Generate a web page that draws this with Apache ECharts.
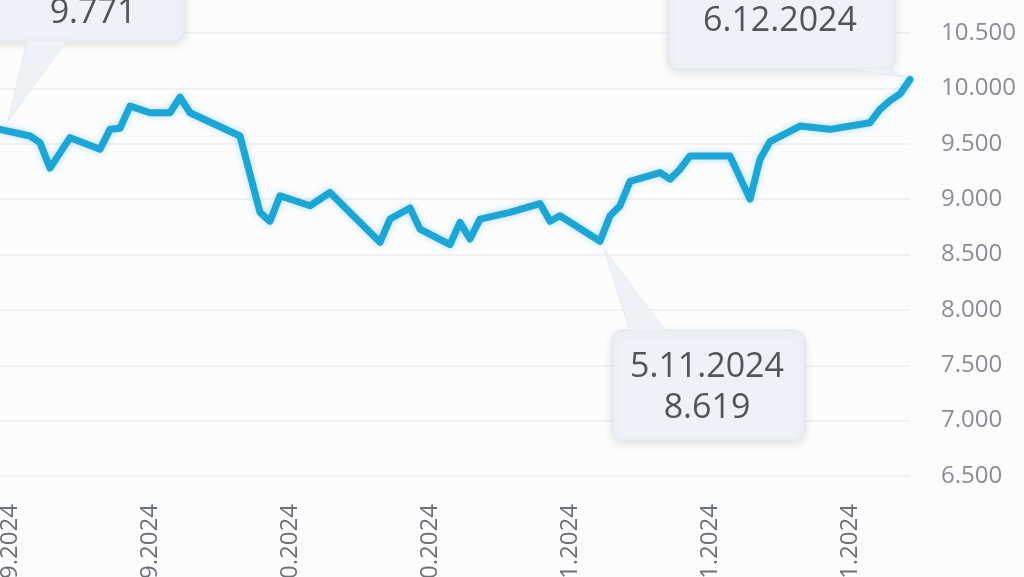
<!DOCTYPE html>
<html>
<head>
<meta charset="utf-8">
<script src="https://cdn.jsdelivr.net/npm/echarts@6/dist/echarts.min.js"></script>
<style>html,body{margin:0;padding:0;background:#fcfcfd;}#c{width:1024px;height:577px;}</style>
</head>
<body>
<div id="c"></div>
<script>
// ---- data ----
// one category per calendar day, 6 Sep 2024 .. 6 Dec 2024
const startDate = '2024-09-06';
const dayCount = 92;
// values read at the visible vertices of the line (day index -> value)
const vertexDays = [0, 3, 4, 5, 7, 10, 11, 12, 13, 15, 17, 18, 19, 24, 26, 27, 28, 31, 33, 35, 38, 39, 41, 42, 45, 46, 47, 48, 51, 54, 55, 56, 60, 61, 62, 63, 66, 67, 68, 69, 73, 75, 76, 77, 80, 83, 87, 88, 89, 90, 91];
const vertexValues = [9.63, 9.57, 9.51, 9.28, 9.555, 9.45, 9.63, 9.64, 9.84, 9.78, 9.78, 9.92, 9.78, 9.57, 8.88, 8.80, 9.03, 8.94, 9.06, 8.88, 8.61, 8.82, 8.92, 8.73, 8.59, 8.79, 8.64, 8.82, 8.88, 8.96, 8.80, 8.85, 8.619, 8.85, 8.94, 9.16, 9.24, 9.18, 9.27, 9.39, 9.39, 9.00, 9.36, 9.52, 9.66, 9.63, 9.69, 9.81, 9.89, 9.95, 10.08];
// y-axis ticks
const yMin = 6.5, yMax = 10.5, yStep = 0.5;
// x-axis labelled days
const labelDays = [1, 15, 29, 43, 57, 71, 85];
// callouts
const calloutDays = [0, 60, 91];
const calloutTexts = ['9.771', '5.11.2024\n8.619', '6.12.2024'];

// ---- build ----
function fmtDate(d) {
  const dd = d.getDate();
  const mm = String(d.getMonth() + 1).padStart(2, '0');
  return dd + '.' + mm + '.' + d.getFullYear();
}
const categories = [];
const s0 = new Date(startDate + 'T00:00:00');
for (let i = 0; i < dayCount; i++) {
  const d = new Date(s0.getTime());
  d.setDate(s0.getDate() + i);
  categories.push(fmtDate(d));
}
const seriesData = categories.map(() => null);
vertexDays.forEach((d, k) => { seriesData[d] = vertexValues[k]; });
const calloutData = calloutDays.map((d, k) => [d, seriesData[d], calloutTexts[k]]);

// callout geometry relative to anchor point (pixels)
const calloutLayout = [
  { box: [-20, -180, 205, 92], text: [93, -116], tail: [[27, -89], [67, -89], [8, -8]] },
  { box: [12, 89, 193, 110], text: [107, 146], tail: [[30, 90], [66, 90], [4, 8]] },
  { box: [-242, -110, 227, 100], text: [-130, -58], tail: [[-62, -11], [-22, -11], [-4, -2]] }
];

const FONT = '"Open Sans", sans-serif';
const chart = echarts.init(document.getElementById('c'), null, { renderer: 'canvas' });
chart.setOption({
  backgroundColor: '#fcfcfd',
  animation: false,
  grid: { left: 0, right: 114, top: 33, bottom: 101, containLabel: false, outerBoundsMode: 'none' },
  xAxis: {
    type: 'category',
    data: categories,
    boundaryGap: false,
    axisLine: { show: false },
    axisTick: { show: false },
    splitLine: { show: false },
    axisLabel: {
      rotate: 90,
      margin: 28,
      fontFamily: FONT,
      fontSize: 24,
      color: '#6d7278',
      interval: (idx) => labelDays.indexOf(idx) >= 0
    }
  },
  yAxis: {
    type: 'value',
    position: 'right',
    min: yMin,
    max: yMax,
    interval: yStep,
    axisLine: { show: false },
    axisTick: { show: false },
    axisLabel: {
      margin: 31,
      fontFamily: FONT,
      fontSize: 24,
      color: '#8a8e94',
      formatter: (v) => v.toFixed(3)
    },
    splitLine: { lineStyle: { color: '#eceef2', width: 1.5 } }
  },
  series: [
    {
      type: 'line',
      data: seriesData,
      connectNulls: true,
      showSymbol: false,
      symbol: 'none',
      lineStyle: {
        color: '#1ca6d5',
        width: 7,
        join: 'round',
        cap: 'round',
        shadowColor: 'rgba(28,166,213,0.35)',
        shadowBlur: 6
      },
      z: 3
    },
    {
      type: 'custom',
      data: calloutData,
      z: 5,
      clip: false,
      renderItem: function (params, api) {
        const p = api.coord([api.value(0), api.value(1)]);
        const L = calloutLayout[params.dataIndex];
        const fill = '#eef2f6';
        return {
          type: 'group',
          children: [
            {
              type: 'rect',
              shape: { x: p[0] + L.box[0], y: p[1] + L.box[1], width: L.box[2], height: L.box[3], r: 12 },
              style: { fill: fill, stroke: '#e3e8ee', lineWidth: 1.5, shadowColor: 'rgba(0,0,0,0.10)', shadowBlur: 10, shadowOffsetY: 3 }
            },
            {
              type: 'polygon',
              shape: { points: L.tail.map(t => [p[0] + t[0], p[1] + t[1]]) },
              style: { fill: fill, stroke: '#e6ebf0', lineWidth: 1 }
            },
            {
              type: 'text',
              style: {
                x: p[0] + L.text[0], y: p[1] + L.text[1],
                text: calloutTexts[params.dataIndex],
                align: 'center', verticalAlign: 'middle',
                font: '34px ' + FONT,
                fill: '#50555c',
                lineHeight: 41
              }
            }
          ]
        };
      }
    }
  ]
});
</script>
</body>
</html>
